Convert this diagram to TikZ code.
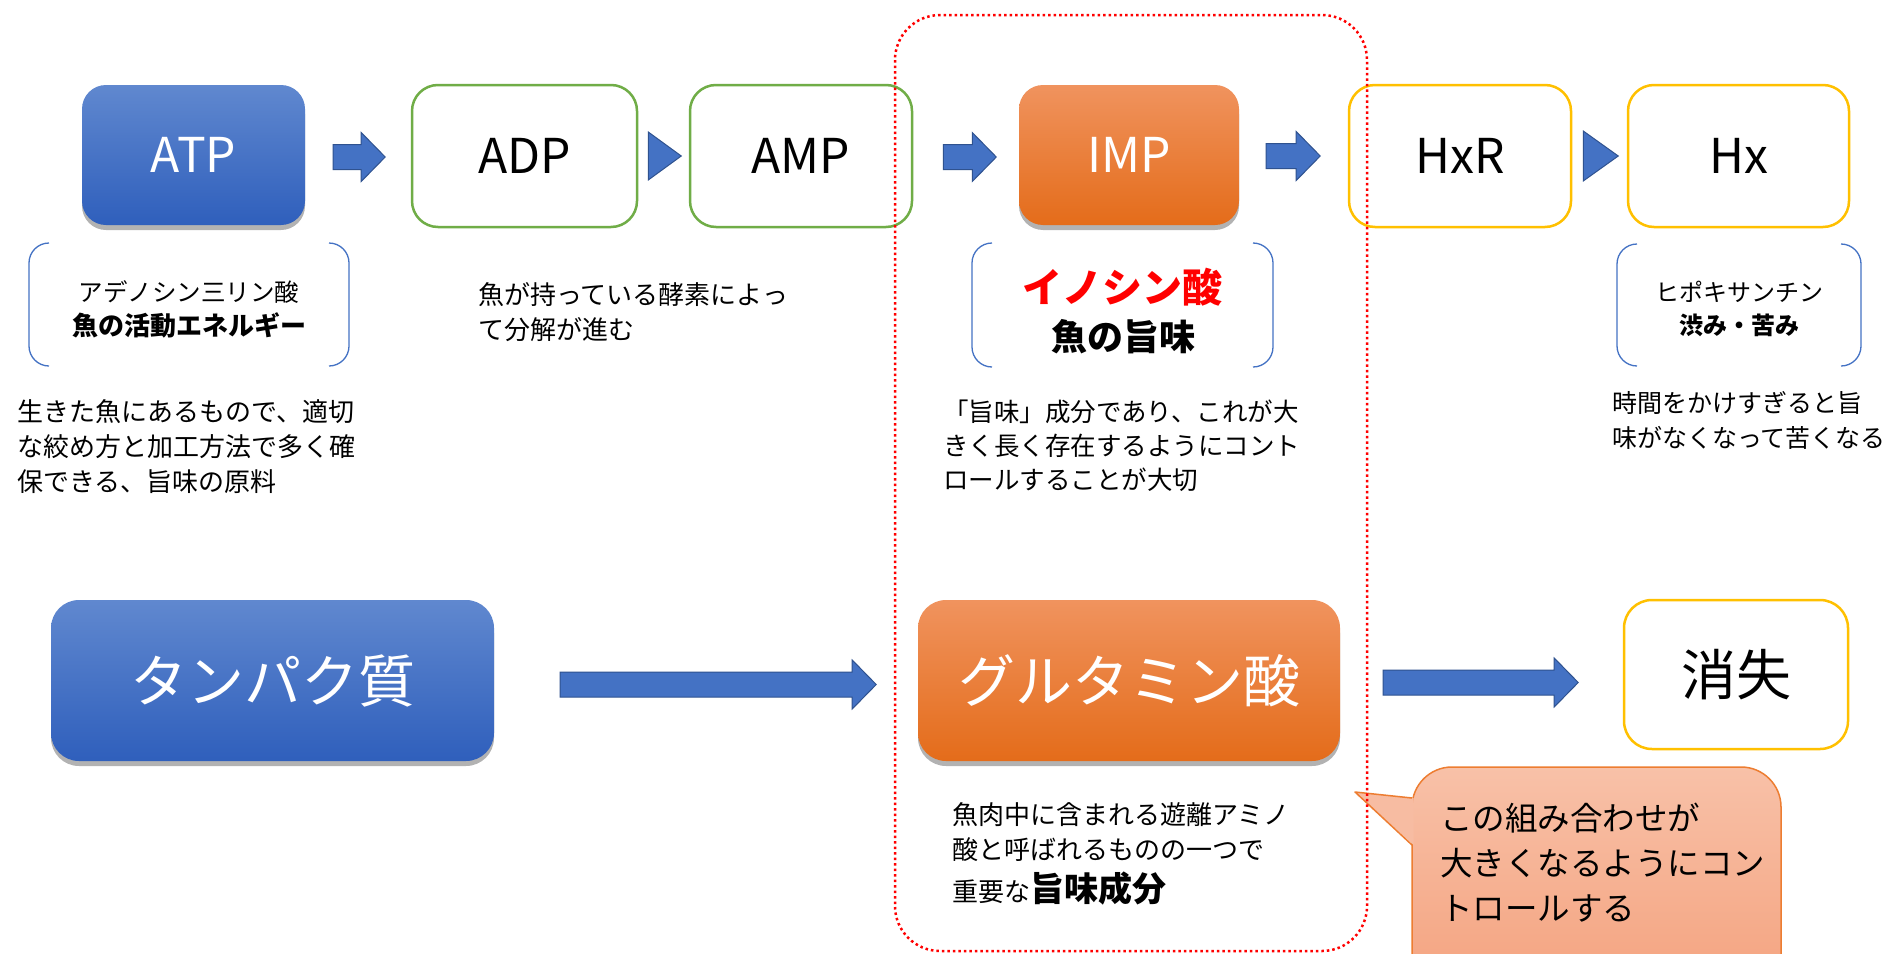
\documentclass[tikz,border=0pt]{standalone}
\usepackage{fontspec}
\setmainfont{Noto Sans CJK JP}
\usetikzlibrary{shadows,calc}
\definecolor{blueA}{HTML}{6088CF}
\definecolor{blueB}{HTML}{2F5FBC}
\definecolor{orA}{HTML}{F0935E}
\definecolor{orB}{HTML}{E46C1A}
\definecolor{arrblue}{HTML}{4472C4}
\definecolor{arrbord}{HTML}{2F528F}
\definecolor{grn}{HTML}{70AD47}
\definecolor{yel}{HTML}{FFC000}
\definecolor{callA}{HTML}{F8C1A8}
\definecolor{callB}{HTML}{F4A27E}
\definecolor{callbd}{HTML}{ED7D31}
\newcommand{\blkarrow}[2]{%
  \draw[arrowst] (#1) ++(0,-12.5) -- ++({#2-24},0) -- ++(0,-12) -- ++(24,24.5)
    -- ++(-24,24.5) -- ++(0,-12) -- ++({-(#2-24)},0) -- cycle;}
\begin{document}
\begin{tikzpicture}[x=1pt,y=-1pt,
  shd/.style={drop shadow={shadow xshift=0pt,shadow yshift=-5pt,opacity=0.3,fill=black}},
  bluebox/.style={rounded corners=24,inner sep=0,top color=blueA,bottom color=blueB,text=white,shd},
  orbox/.style={rounded corners=24,inner sep=0,top color=orA,bottom color=orB,text=white,shd},
  grnbox/.style={rounded corners=26,inner sep=0,draw=grn,line width=2.5,fill=white},
  yelbox/.style={rounded corners=26,inner sep=0,draw=yel,line width=2.5,fill=white},
  arrowst/.style={fill=arrblue,draw=arrbord,line width=1},
  brk/.style={draw=arrblue,line width=1.3,rounded corners=20},
  big/.style={font=\fontsize{48}{58}\selectfont},
  huge/.style={font=\fontsize{57}{66}\selectfont},
  para/.style={anchor=west,align=left,inner sep=0,font=\fontsize{26}{35}\selectfont},
  lbl/.style={inner sep=0,font=\fontsize{24.5}{30}\selectfont},
  lblb/.style={inner sep=0,font=\fontsize{26}{30}\selectfont\bfseries}]
\useasboundingbox (0,0) rectangle (1889,953);
\clip (0,0) rectangle (1889,953);
\fill[white] (0,0) rectangle (1889,953);

% top row boxes
\node[bluebox,minimum width=223,minimum height=140] (atp) at (193.5,155) {\fontsize{48}{58}\selectfont ATP};
\node[grnbox,minimum width=225,minimum height=142,big] (adp) at (524.5,156) {ADP};
\node[grnbox,minimum width=222,minimum height=142,big] (amp) at (801,156) {AMP};
\node[orbox,minimum width=220,minimum height=140] (imp) at (1129,155) {\fontsize{48}{58}\selectfont IMP};
\node[yelbox,minimum width=222,minimum height=142,big] (hxr) at (1460,156) {HxR};
\node[yelbox,minimum width=221,minimum height=142,big] (hx) at (1738.5,156) {Hx};

% top row connectors
\blkarrow{$(atp.east)+(28,2)$}{52}
\draw[arrowst] ($(adp.east)+(10,-24)$) -- ($(adp.east)+(10,24)$) -- ($(adp.east)+(43,0)$) -- cycle;
\blkarrow{$(amp.east)+(30,1)$}{53}
\blkarrow{$(imp.east)+(27,1)$}{54}
\draw[arrowst] ($(hxr.east)+(11,-25)$) -- ($(hxr.east)+(11,25)$) -- ($(hxr.east)+(46,0)$) -- cycle;

% brackets
\draw[brk] (49,243) -- (29,243) -- (29,366) -- (49,366);
\draw[brk] (329,243) -- (349,243) -- (349,366) -- (329,366);
\node[lbl] (atpn) at (189,292) {アデノシン三リン酸};
\node[lblb] (atpd) at (189,325) {魚の活動エネルギー};

\draw[brk] (992,243) -- (972,243) -- (972,367) -- (992,367);
\draw[brk] (1253,243) -- (1273,243) -- (1273,367) -- (1253,367);
\node[inner sep=0,text=red,font=\fontsize{40}{46}\selectfont\bfseries] (impn) at (1122.5,287) {イノシン酸};
\node[inner sep=0,font=\fontsize{36}{42}\selectfont\bfseries] (impd) at (1123,337) {魚の旨味};

\draw[brk] (1637,244) -- (1617,244) -- (1617,366) -- (1637,366);
\draw[brk] (1841,244) -- (1861,244) -- (1861,366) -- (1841,366);
\node[lbl,font=\fontsize{24}{30}\selectfont] (hxn) at (1739,292) {ヒポキサンチン};
\node[lblb,font=\fontsize{24}{30}\selectfont\bfseries] (hxd) at (1739,325) {渋み・苦み};

% paragraphs
\node[para] (p1) at (17,447) {生きた魚にあるもので、適切\\な絞め方と加工方法で多く確\\保できる、旨味の原料};
\node[para] (p2) at (478,312.5) {魚が持っている酵素によっ\\て分解が進む};
\node[para,font=\fontsize{25.5}{34}\selectfont] (p3) at (943,446) {「旨味」成分であり、これが大\\きく長く存在するようにコント\\ロールすることが大切};
\node[para,font=\fontsize{25}{35}\selectfont] (p4) at (1612,420.5) {時間をかけすぎると旨\\味がなくなって苦くなる};

% bottom row
\node[bluebox,rounded corners=28,minimum width=443,minimum height=161,huge] (tan) at (272.5,680.5) {タンパク質};
\node[orbox,rounded corners=28,minimum width=422,minimum height=161,huge] (glu) at (1129,680.5) {グルタミン酸};
\node[yelbox,rounded corners=28,minimum width=224,minimum height=149,font=\fontsize{55}{64}\selectfont] (ls) at (1736,674.5) {消失};
\blkarrow{$(tan.east)+(66,4)$}{316}
\blkarrow{$(glu.east)+(43,2)$}{195}

\node[para] (p5) at (952,832.5) {魚肉中に含まれる遊離アミノ\\酸と呼ばれるものの一つで};
\node[anchor=west,inner sep=0] (p6) at (952,889) {\fontsize{26}{35}\selectfont 重要な\fontsize{34}{40}\selectfont\bfseries 旨味成分};

% callout
\node[rounded corners=40,draw=callbd,line width=1.5,top color=callA,bottom color=callB,
  minimum width=369,minimum height=230,inner sep=0] (call) at (1596.5,882) {};
\coordinate (tip) at (1355,792);
\fill[callA!85!callB] (tip) -- (1413.5,798) -- (1413.5,845) -- cycle;
\draw[callbd,line width=1.5,line join=round] (1412,798) -- (tip) -- (1412,845);
\node[para,font=\fontsize{32.5}{45}\selectfont] (ct) at (1440,863) {この組み合わせが\\大きくなるようにコン\\トロールする};

% red dotted frame
\draw[red,line width=2.5,dash pattern=on 2.5pt off 3pt,rounded corners=45] (895,15) rectangle (1367,951);
\end{tikzpicture}
\end{document}
